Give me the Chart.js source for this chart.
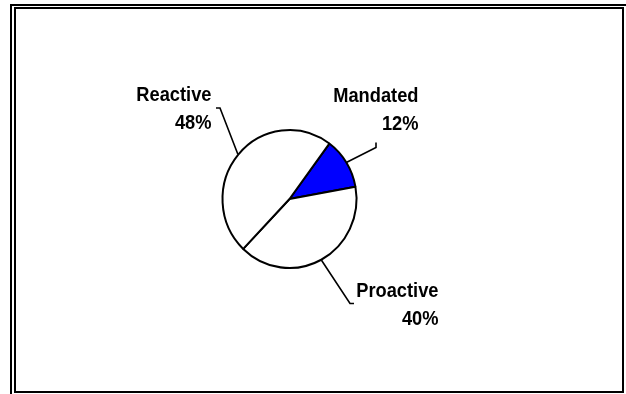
<!DOCTYPE html>
<html>
<head>
<meta charset="utf-8">
<script src="https://cdn.jsdelivr.net/npm/chart.js@4.4.1/dist/chart.umd.min.js"></script>
<style>
  html, body { margin: 0; padding: 0; background: #fff; }
  body { width: 626px; height: 394px; position: relative; overflow: hidden; }
  /* double frame: offset top/left line plus the full inner box */
  .frame-outer {
    position: absolute; left: 10px; top: 4px; width: 616px; height: 390px;
    border-top: 2px solid #000; border-left: 2px solid #000; box-sizing: border-box;
  }
  .frame-inner {
    position: absolute; left: 14px; top: 7px; width: 610px; height: 386px;
    border: 2px solid #000; box-sizing: border-box;
  }
  #pie { position: absolute; left: 0; top: 0; }
</style>
</head>
<body>
<div class="frame-outer"></div>
<div class="frame-inner"></div>
<canvas id="pie" width="626" height="394"></canvas>
<script>
// Share of work by type (percent)
const categories = ["Mandated", "Proactive", "Reactive"];
const shares = [12, 40, 48];
const sliceColors = ["#0000ff", "#ffffff", "#ffffff"];

// Where each callout sits, as offsets from the pie centre (px).
// elbow = bend of leader line, hook = short tick at its end, text = right edge / first baseline
const callouts = [
  { elbow: [86.5, -51.5], hook: [0, -5], text: [129, -97.5] },
  { elbow: [60.5, 104.5], hook: [4, 0], text: [149, 97.5] },
  { elbow: [-69.5, -91], hook: [-4, 0], text: [-78, -98.5] },
];

const CENTER_X = 289.5;
const CENTER_Y = 199;
const SIDE = 136;
const Y_STRETCH = 1.03; // the original pie is drawn a touch taller than wide
const LINE_GAP = 28.5;

// Slight vertical stretch of the pie, then leader lines + two-line labels
const leaderLabels = {
  id: "leaderLabels",
  beforeDatasetsDraw(chart) {
    const ctx = chart.ctx;
    const arc = chart.getDatasetMeta(0).data[0];
    ctx.save();
    ctx.translate(arc.x, arc.y);
    ctx.scale(1, Y_STRETCH);
    ctx.translate(-arc.x, -arc.y);
  },
  afterDatasetsDraw(chart) {
    const ctx = chart.ctx;
    ctx.restore();
    const arcs = chart.getDatasetMeta(0).data;
    arcs.forEach((arc, i) => {
      const p = arc.getProps(["x", "y", "startAngle", "endAngle", "outerRadius"], true);
      const mid = (p.startAngle + p.endAngle) / 2;
      const sx = p.x + Math.cos(mid) * (p.outerRadius + 0.5);
      const sy = p.y + Math.sin(mid) * (p.outerRadius + 0.5) * Y_STRETCH;
      const c = callouts[i];
      const ex = p.x + c.elbow[0];
      const ey = p.y + c.elbow[1];

      ctx.save();
      ctx.strokeStyle = "#000";
      ctx.lineWidth = 1.6;
      ctx.beginPath();
      ctx.moveTo(sx, sy);
      ctx.lineTo(ex, ey);
      ctx.lineTo(ex + c.hook[0], ey + c.hook[1]);
      ctx.stroke();

      ctx.fillStyle = "#000";
      ctx.font = "bold 21px 'Liberation Sans', Arial, sans-serif";
      ctx.textAlign = "right";
      ctx.textBaseline = "alphabetic";
      const tx = p.x + c.text[0];
      const ty = p.y + c.text[1];
      [categories[i], shares[i] + "%"].forEach((line, k) => {
        ctx.save();
        ctx.translate(tx, ty + k * LINE_GAP);
        ctx.scale(0.87, 1); // condensed look
        ctx.fillText(line, 0, 0);
        ctx.restore();
      });
      ctx.restore();
    });
  },
};

new Chart(document.getElementById("pie"), {
  type: "pie",
  data: {
    labels: categories,
    datasets: [
      {
        data: shares,
        backgroundColor: sliceColors,
        borderColor: "#000",
        borderWidth: 2,
      },
    ],
  },
  options: {
    responsive: false,
    animation: false,
    rotation: 36.5,
    layout: {
      padding: {
        left: CENTER_X - SIDE / 2,
        right: 626 - CENTER_X - SIDE / 2,
        top: CENTER_Y - SIDE / 2,
        bottom: 394 - CENTER_Y - SIDE / 2,
      },
    },
    plugins: {
      legend: { display: false },
      tooltip: { enabled: false },
    },
  },
  plugins: [leaderLabels],
});
</script>
</body>
</html>
